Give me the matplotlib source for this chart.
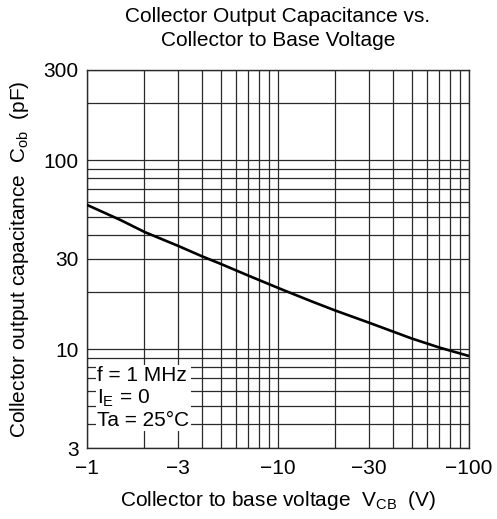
import numpy as np
import matplotlib
matplotlib.use("Agg")
import matplotlib.pyplot as plt
from matplotlib.ticker import FixedLocator, FixedFormatter, NullFormatter

plt.rcParams['font.family'] = ['Liberation Sans', 'DejaVu Sans']

# Data (|V_CB| in volts, C_ob in pF)
vcb = [1, 1.5, 2, 3, 4, 5, 7, 10, 15, 20, 30, 50, 70, 100]
cob = [58, 48.2, 41.7, 35.2, 31.0, 28.3, 24.5, 21.1, 17.9, 16.0, 13.8, 11.4, 10.2, 9.2]

xticks = [1, 3, 10, 30, 100]
xticklabels = ['\u22121', '\u22123', '\u221210', '\u221230', '\u2212100']
yticks = [3, 10, 30, 100, 300]
yticklabels = ['3', '10', '30', '100', '300']

fig = plt.figure(figsize=(4.97, 5.19), dpi=100)
ax = fig.add_axes([87/497, 1-448/519, (469-87)/497, (448-70)/519])

ax.set_xscale('log')
ax.set_yscale('log')
ax.set_xlim(1, 100)
ax.set_ylim(3, 300)

xminor = [m*d for d in (1, 10) for m in range(2, 10)]
yminor = [m*d for d in (1, 10, 100) for m in range(2, 10) if 3 < m*d < 300]
ax.xaxis.set_major_locator(FixedLocator(xticks))
ax.xaxis.set_major_formatter(FixedFormatter(xticklabels))
ax.xaxis.set_minor_locator(FixedLocator(xminor))
ax.xaxis.set_minor_formatter(NullFormatter())
ax.yaxis.set_major_locator(FixedLocator(yticks))
ax.yaxis.set_major_formatter(FixedFormatter(yticklabels))
ax.yaxis.set_minor_locator(FixedLocator(yminor))
ax.yaxis.set_minor_formatter(NullFormatter())

ax.grid(True, which='both', color='#2a2a2a', linewidth=0.9)
ax.tick_params(which='both', length=0, labelsize=15)
ax.tick_params(axis='x', pad=8)
ax.tick_params(axis='y', pad=6)
for s in ax.spines.values():
    s.set_linewidth(1.0)
    s.set_color('#2a2a2a')

ax.plot(vcb, cob, color='black', linewidth=1.9, zorder=3,
        solid_joinstyle='round', solid_capstyle='butt')

ax.text(1.128, 5.52, 'f = 1 MHz\n$\\mathregular{I_E}$ = 0\nTa = 25\u00b0C', fontsize=15,
        ha='left', va='center', linespacing=1.15,
        bbox=dict(facecolor='white', edgecolor='none', pad=1.0), zorder=4)

fig.text(278/497, 1-17/519, 'Collector Output Capacitance vs.', ha='center', va='center', fontsize=15)
fig.text(278/497, 1-40/519, 'Collector to Base Voltage', ha='center', va='center', fontsize=15)

ax.set_xlabel('Collector to base voltage  $\\mathregular{V_{CB}}$  (V)', fontsize=15)
ax.xaxis.set_label_coords(0.5, -(500-448)/378)
ax.xaxis.label.set_verticalalignment('center')
ax.set_ylabel('Collector output capacitance  $\\mathregular{C_{ob}}$  (pF)', fontsize=15)
ax.yaxis.set_label_coords((20-87)/382, 0.5)
ax.yaxis.label.set_verticalalignment('center')

fig.savefig('out.png', dpi=100)
